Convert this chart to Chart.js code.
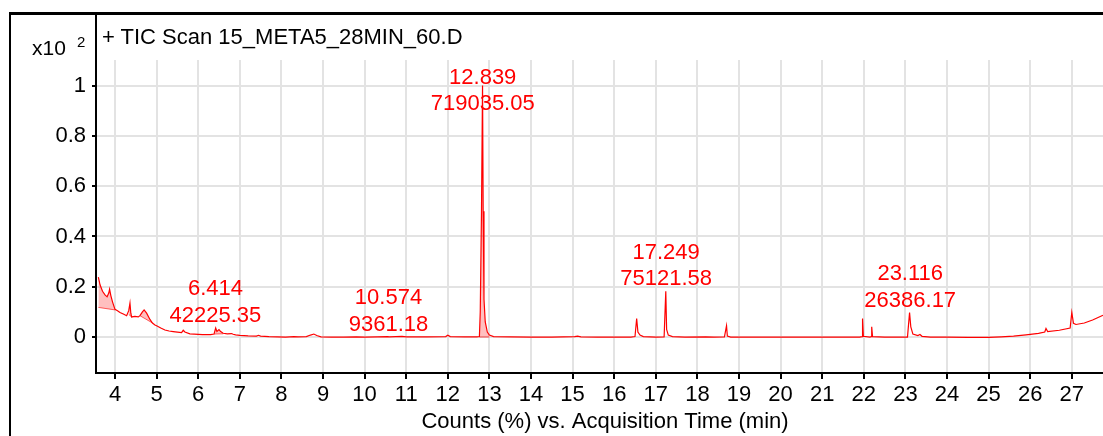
<!DOCTYPE html>
<html><head><meta charset="utf-8">
<script src="https://cdn.jsdelivr.net/npm/chart.js@4.4.1/dist/chart.umd.min.js"></script>
<style>
html,body{margin:0;padding:0;overflow:hidden;background:#fff;width:1103px;height:436px;}
#wrap{position:relative;width:1103px;height:436px;overflow:hidden;}
#c{position:absolute;left:0;top:0;}
.frame{position:absolute;left:9px;top:12px;width:1200px;height:500px;border-top:3px solid #000;border-left:2px solid #000;pointer-events:none;}
.yext{position:absolute;left:95px;top:13px;width:2px;height:48px;background:#000;}
.txt{position:absolute;font-family:"Liberation Sans",Arial,sans-serif;color:#000;white-space:nowrap;}
</style></head><body>
<div id="wrap">
<canvas id="c" width="1114" height="436"></canvas>
<div class="frame"></div>
<div class="yext"></div>
<div class="txt" style="left:32px;top:37px;font-size:21px;line-height:21px;">x10</div>
<div class="txt" style="left:77px;top:34px;font-size:15px;line-height:15px;">2</div>
<div class="txt" style="left:102px;top:25.7px;font-size:22px;line-height:22px;">+ TIC Scan 15_META5_28MIN_60.D</div>
</div>
<script>
// ---- data (Counts in units of x10^2 %, time in min) ----
const times = [3.60,3.64,3.70,3.76,3.81,3.85,3.87,3.90,3.94,4.00,4.06,4.12,4.20,4.28,4.33,4.36,4.38,4.40,4.48,4.56,4.60,4.66,4.70,4.76,4.84,4.90,4.96,5.00,5.10,5.20,5.30,5.40,5.50,5.60,5.64,5.68,5.80,5.90,6.00,6.10,6.20,6.30,6.38,6.42,6.45,6.50,6.54,6.60,6.70,6.80,6.84,6.90,7.00,7.20,7.40,7.45,7.50,7.70,7.90,8.10,8.30,8.40,8.60,8.70,8.78,8.85,8.95,9.20,9.50,9.80,10.00,10.30,10.55,10.60,10.90,11.00,11.50,11.95,12.00,12.06,12.40,12.70,12.76,12.78,12.81,12.835,12.85,12.87,12.90,12.95,13.00,13.10,13.50,14.00,14.50,15.05,15.12,15.20,15.60,16.00,16.40,16.50,16.54,16.57,16.62,16.70,17.00,17.20,17.24,17.26,17.30,17.40,17.70,18.20,18.40,18.65,18.70,18.72,18.80,19.20,19.60,20.00,20.50,21.00,21.50,21.90,21.96,21.97,21.99,22.15,22.18,22.19,22.21,22.50,22.90,23.05,23.10,23.13,23.18,23.30,23.35,23.40,23.60,24.00,24.50,25.00,25.30,25.60,25.90,26.20,26.35,26.38,26.42,26.70,26.96,27.00,27.04,27.10,27.30,27.50,27.75];
const counts = [0.238,0.208,0.182,0.168,0.160,0.175,0.190,0.165,0.140,0.110,0.105,0.098,0.092,0.085,0.105,0.135,0.095,0.080,0.082,0.080,0.085,0.100,0.108,0.095,0.070,0.056,0.048,0.045,0.036,0.028,0.024,0.022,0.020,0.018,0.027,0.020,0.013,0.012,0.011,0.010,0.010,0.010,0.012,0.036,0.022,0.030,0.022,0.015,0.013,0.014,0.011,0.009,0.007,0.005,0.004,0.007,0.004,0.002,0.001,0.000,0.002,0.001,0.002,0.008,0.012,0.006,0.001,0.000,0.000,0.001,0.000,0.001,0.002,0.001,0.003,0.001,0.001,0.002,0.007,0.002,0.001,0.001,0.002,0.10,0.50,1.0,0.50,0.15,0.06,0.02,0.008,0.002,0.001,0.000,0.000,0.002,0.004,0.001,0.000,0.000,0.000,0.002,0.074,0.020,0.008,0.002,0.000,0.001,0.182,0.030,0.008,0.002,0.000,0.001,0.000,0.001,0.045,0.004,0.000,0.000,0.000,0.000,0.000,0.000,0.000,0.000,0.002,0.074,0.003,0.000,0.002,0.041,0.002,0.000,0.000,0.000,0.097,0.040,0.012,0.006,0.010,0.003,0.000,0.000,-0.001,-0.001,0.001,0.004,0.009,0.015,0.020,0.034,0.022,0.027,0.036,0.098,0.055,0.050,0.056,0.068,0.087];

// integrated peak regions (time range and integration baseline counts)
const fillStart     = [3.60, 4.33, 4.60, 6.38, 12.76];
const fillEnd       = [4.00, 4.40, 4.90, 6.60, 13.00];
const fillBaseStart = [0.118, 0.090, 0.085, 0.012, 0.0];
const fillBaseEnd   = [0.108, 0.080, 0.056, 0.013, 0.0];

// peak annotations
const peakTimes = ['6.414','10.574','12.839','17.249','23.116'];
const peakAreas = ['42225.35','9361.18','719035.05','75121.58','26386.17'];
const peakApex  = [0.038, 0.002, 1.0, 0.182, 0.097];

// axis ticks
const xTicks = [4,5,6,7,8,9,10,11,12,13,14,15,16,17,18,19,20,21,22,23,24,25,26,27];
const yTicks = [0,0.2,0.4,0.6,0.8,1];
const yTickLabels = ['0','0.2','0.4','0.6','0.8','1'];

const FONT = '"Liberation Sans", Arial, sans-serif';
const RED = '#ff0000';

const datasets = [{
  data: times.map((t,i)=>({x:t,y:counts[i]})),
  borderColor: RED, borderWidth: 1.2, pointRadius: 0, tension: 0, fill: false
}];
fillStart.forEach((s,i)=>{
  const baseIndex = datasets.length;
  datasets.push({
    data: [{x:s,y:fillBaseStart[i]},{x:fillEnd[i],y:fillBaseEnd[i]}],
    borderColor: 'rgba(255,0,0,0.6)', borderWidth: 1, pointRadius: 0, tension: 0, fill: false
  });
  const seg = [];
  times.forEach((t,j)=>{ if (t>=s-1e-9 && t<=fillEnd[i]+1e-9) seg.push({x:t,y:counts[j]}); });
  datasets.push({
    data: seg, borderWidth: 0, borderColor: 'rgba(0,0,0,0)', pointRadius: 0, tension: 0,
    fill: baseIndex, backgroundColor: 'rgba(255,0,0,0.25)'
  });
});

const peakLabelPlugin = {
  id: 'peakLabels',
  afterDatasetsDraw(chart){
    const {ctx, chartArea} = chart;
    const x = chart.scales.x, y = chart.scales.y;
    ctx.save();
    ctx.font = '22px ' + FONT;
    ctx.fillStyle = RED;
    ctx.textAlign = 'center';
    ctx.textBaseline = 'alphabetic';
    peakTimes.forEach((t,i)=>{
      const px = x.getPixelForValue(parseFloat(t));
      let b2 = y.getPixelForValue(peakApex[i]) - 6;
      let b1 = b2 - 26.5;
      const minB1 = chartArea.top + 23.5;
      if (b1 < minB1) { b1 = minB1; b2 = b1 + 26.5; }
      ctx.fillText(t, px, b1);
      ctx.fillText(peakAreas[i], px, b2);
    });
    ctx.restore();
  }
};

new Chart(document.getElementById('c'), {
  type: 'line',
  data: { datasets },
  plugins: [peakLabelPlugin],
  options: {
    responsive: false, animation: false, devicePixelRatio: 1,
    layout: { padding: { left: 0, top: 60, right: 0, bottom: 0 } },
    plugins: { legend: {display:false}, tooltip: {enabled:false}, title: {display:false} },
    scales: {
      x: {
        type: 'linear', min: 3.5433, max: 28.0144,
        afterBuildTicks: s => { s.ticks = xTicks.map(v=>({value:v})); },
        ticks: { callback: v => String(v), color: '#000', padding: 5, maxRotation: 0, autoSkip: false,
                 font: { family: FONT, size: 22, lineHeight: 1 } },
        grid: { color: '#e3e3e3', lineWidth: 2, tickColor: '#000', tickLength: 6, tickWidth: 2 },
        border: { color: '#000', width: 2 },
        title: { display: true, text: 'Counts (%) vs. Acquisition Time (min)', color: '#000',
                 font: { family: FONT, size: 22, lineHeight: 1 }, padding: { top: 0, bottom: 3 } }
      },
      y: {
        type: 'linear', min: -0.1429, max: 1.1018,
        afterBuildTicks: s => { s.ticks = yTicks.map(v=>({value:v})); },
        afterFit: s => { s.width = 96; },
        ticks: { callback: v => { const k = yTicks.findIndex(t=>Math.abs(t-v)<1e-9); return k>=0 ? yTickLabels[k] : ''; },
                 color: '#000', padding: 6, font: { family: FONT, size: 22, lineHeight: 1 } },
        grid: { color: '#e3e3e3', lineWidth: 2, tickColor: '#000', tickLength: 4, tickWidth: 2 },
        border: { color: '#000', width: 2 }
      }
    }
  }
});
</script>
</body></html>
